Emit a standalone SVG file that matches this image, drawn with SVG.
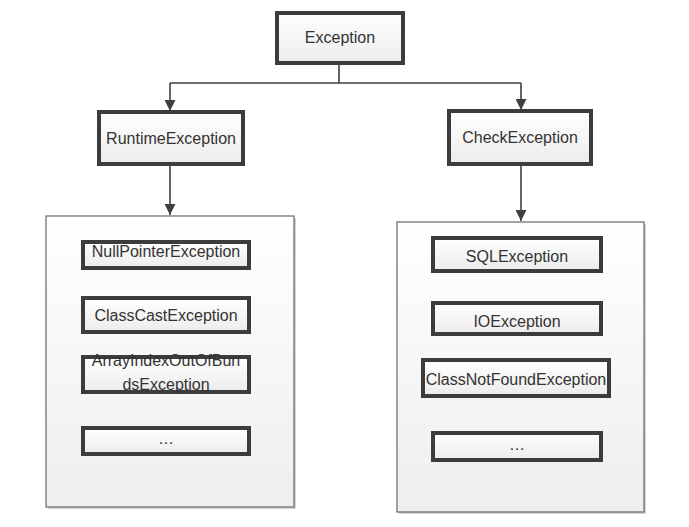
<svg xmlns="http://www.w3.org/2000/svg" width="689" height="527" viewBox="0 0 689 527">
<style>
.box{fill:url(#bg);stroke:#3c3c3c;stroke-width:4}
.shadow{fill:#c8c8c8}
.cont{fill:url(#cg);stroke:#666;stroke-width:1.2}
.cshadow{fill:#d4d4d4}
.t{font-family:"Liberation Sans",Arial,sans-serif;font-size:16px;fill:#333;text-anchor:middle}
.line{fill:none;stroke:#404040;stroke-width:1.6}
</style>
<defs>
<linearGradient id="bg" x1="0" y1="0" x2="0" y2="1"><stop offset="0" stop-color="#ffffff"/><stop offset="1" stop-color="#ececec"/></linearGradient>
<linearGradient id="cg" x1="0" y1="0" x2="0" y2="1"><stop offset="0" stop-color="#ffffff"/><stop offset="1" stop-color="#eeeeee"/></linearGradient>
<marker id="arr" markerWidth="11" markerHeight="11" viewBox="0 0 10 10" refX="10" refY="5" orient="auto" markerUnits="userSpaceOnUse">
<path d="M0,0 L10,5 L0,10 z" fill="#404040"/>
</marker>
</defs>
<g id="container-runtime">
<rect class="cshadow" x="48" y="218" width="248" height="291"/>
<rect class="cont" x="46" y="216" width="248" height="291"/>
</g>
<g id="container-check">
<rect class="cshadow" x="399" y="224" width="247" height="290"/>
<rect class="cont" x="397" y="222" width="247" height="290"/>
</g>
<g id="connectors">
<path class="line" d="M339 63 V83 M170 83 H521"/>
<path class="line" d="M170 83 V111" marker-end="url(#arr)"/>
<path class="line" d="M521 83 V110" marker-end="url(#arr)"/>
<path class="line" d="M170 164 V215" marker-end="url(#arr)"/>
<path class="line" d="M521 164 V221" marker-end="url(#arr)"/>
</g>
<g id="exception">
<rect class="shadow" x="279" y="15" width="126" height="50"/>
<rect class="box" x="277" y="13" width="126" height="50"/>
<text class="t" x="340" y="43">Exception</text>
</g>
<g id="runtime-exception">
<rect class="shadow" x="101" y="114" width="144" height="52"/>
<rect class="box" x="99" y="112" width="144" height="52"/>
<text class="t" x="171" y="144">RuntimeException</text>
</g>
<g id="check-exception">
<rect class="shadow" x="451" y="113" width="142" height="53"/>
<rect class="box" x="449" y="111" width="142" height="53"/>
<text class="t" x="520" y="143">CheckException</text>
</g>
<g id="null-pointer-exception">
<rect class="shadow" x="85" y="244" width="166" height="26"/>
<rect class="box" x="83" y="242" width="166" height="26"/>
<text class="t" x="166" y="257">NullPointerException</text>
</g>
<g id="class-cast-exception">
<rect class="shadow" x="85" y="300" width="166" height="34"/>
<rect class="box" x="83" y="298" width="166" height="34"/>
<text class="t" x="166" y="321">ClassCastException</text>
</g>
<g id="array-index-exception">
<rect class="shadow" x="85" y="359" width="166" height="35"/>
<rect class="box" x="83" y="357" width="166" height="35"/>
<text class="t" x="166" y="366">ArrayIndexOutOfBun</text>
<text class="t" x="166" y="390">dsException</text>
</g>
<g id="runtime-more">
<rect class="shadow" x="85" y="430" width="166" height="26"/>
<rect class="box" x="83" y="428" width="166" height="26"/>
<text class="t" x="166" y="444">…</text>
</g>
<g id="sql-exception">
<rect class="shadow" x="435" y="240" width="168" height="33"/>
<rect class="box" x="433" y="238" width="168" height="33"/>
<text class="t" x="517" y="262">SQLException</text>
</g>
<g id="io-exception">
<rect class="shadow" x="435" y="305" width="168" height="31"/>
<rect class="box" x="433" y="303" width="168" height="31"/>
<text class="t" x="517" y="327">IOException</text>
</g>
<g id="class-not-found-exception">
<rect class="shadow" x="425" y="362" width="186" height="36"/>
<rect class="box" x="423" y="360" width="186" height="36"/>
<text class="t" x="516" y="385">ClassNotFoundException</text>
</g>
<g id="check-more">
<rect class="shadow" x="435" y="435" width="168" height="27"/>
<rect class="box" x="433" y="433" width="168" height="27"/>
<text class="t" x="517" y="450">…</text>
</g>
</svg>
